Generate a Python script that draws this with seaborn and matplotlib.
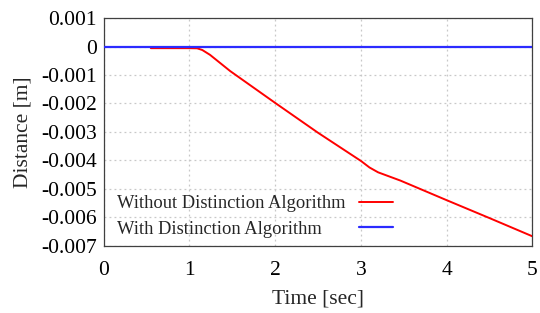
import matplotlib
matplotlib.use("Agg")
import matplotlib.pyplot as plt
import seaborn as sns
import pandas as pd

# --- Data ---
t_without = [0.55, 1.0, 1.09, 1.15, 1.24, 1.475, 2.0, 2.5, 3.0, 3.1, 3.2, 3.46, 4.0, 4.5, 5.0]
d_without = [-0.000055, -0.000055, -0.00006, -0.00012, -0.00029, -0.00086, -0.00198,
             -0.00303, -0.00402, -0.00425, -0.00442, -0.00471, -0.0054, -0.00603, -0.00667]
t_with = [0.0, 5.0]
d_with = [0.0, 0.0]
labels = ["Without Distinction Algorithm", "With Distinction Algorithm"]
x_ticks = [0, 1, 2, 3, 4, 5]
y_ticks = [0.001, 0, -0.001, -0.002, -0.003, -0.004, -0.005, -0.006, -0.007]
y_ticklabels = ["0.001", "0", "-0.001", "-0.002", "-0.003", "-0.004", "-0.005", "-0.006", "-0.007"]

df_without = pd.DataFrame({"t": t_without, "d": d_without})
df_with = pd.DataFrame({"t": t_with, "d": d_with})

# --- Style ---
sns.set_style("white")
plt.rcParams["font.family"] = ["Liberation Serif", "DejaVu Serif"]

fig = plt.figure(figsize=(5.4, 3.13), dpi=100)
ax = fig.add_axes([0.192, 0.215, 0.794, 0.727])

sns.lineplot(data=df_without, x="t", y="d", color="#ff0000", linewidth=1.4,
             label=labels[0], ax=ax, zorder=3)
sns.lineplot(data=df_with, x="t", y="d", color="#2b2bff", linewidth=1.6,
             label=labels[1], ax=ax, zorder=4)

ax.set_xlim(0, 5)
ax.set_ylim(-0.007, 0.001)
ax.set_xticks(x_ticks)
ax.set_xticklabels([str(v) for v in x_ticks])
ax.set_yticks(y_ticks)
ax.set_yticklabels(y_ticklabels)
ax.tick_params(direction="in", length=3, width=0.6, labelsize=15.5, colors="#000000")
ax.tick_params(axis="x", pad=11)
ax.tick_params(axis="y", pad=5)
ax.grid(True, linestyle=(0, (1.5, 2.5)), color="#c8c8c8", linewidth=0.9)
for s in ax.spines.values():
    s.set_color("#404040")
    s.set_linewidth(0.9)

ax.set_xlabel("Time [sec]", fontsize=15.5, labelpad=7)
ax.set_ylabel("Distance [m]", fontsize=15.5, labelpad=6)

# legend: text first, line after, no frame
leg = ax.legend(loc="lower left", bbox_to_anchor=(0.03, 0.035), frameon=False,
                markerfirst=False, fontsize=13.3, handlelength=1.85, handletextpad=0.75,
                labelspacing=0.45, borderpad=0, borderaxespad=0)

# keep labels left-aligned while lines line up on the right
fig.canvas.draw()
r = fig.canvas.get_renderer()
widths = [t.get_window_extent(r).width for t in leg.get_texts()]
wmax = max(widths)
for col in leg._legend_handle_box.get_children():
    col.align = "left"
    for row, w in zip(col.get_children(), widths):
        row.sep = row.sep + (wmax - w) * 72.0 / fig.dpi

fig.savefig("out.png", dpi=100)
